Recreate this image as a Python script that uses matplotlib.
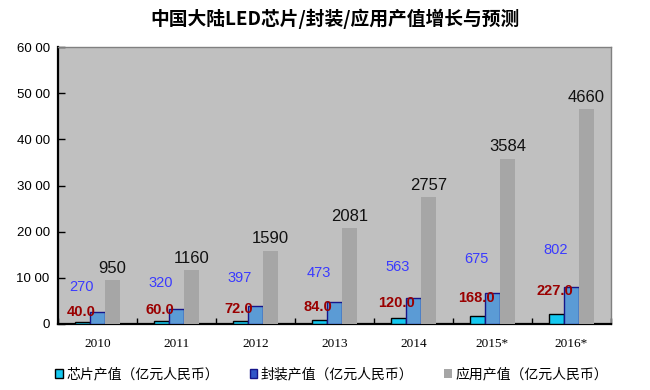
import numpy as np
import matplotlib
matplotlib.use("Agg")
import matplotlib.pyplot as plt
from matplotlib.patches import Patch

# data
years = ['2010', '2011', '2012', '2013', '2014', '2015*', '2016*']
chip = [40.0, 60.0, 72.0, 84.0, 120.0, 168.0, 227.0]
package = [270, 320, 397, 473, 563, 675, 802]
application = [950, 1160, 1590, 2081, 2757, 3584, 4660]

series_names = ['芯片产值（亿元人民币）', '封装产值（亿元人民币）', '应用产值（亿元人民币）']

cjk = ['Noto Sans CJK SC', 'DejaVu Sans']

fig = plt.figure(figsize=(6.5, 3.9), dpi=100)
ax = fig.add_axes([58 / 650, 1 - 324 / 390, (611 - 58) / 650, (324 - 47) / 390])
ax.set_facecolor('#c0c0c0')

x = np.arange(len(years))
w = 0.19

ax.bar(x - w, chip, w, color='#14c8f0', edgecolor='black', linewidth=1.0, zorder=3)
ax.bar(x, package, w, color='#5b9bd5', edgecolor='#15158a', linewidth=1.0, zorder=3)
ax.bar(x + w, application, w, color='#a6a6a6', edgecolor='none', zorder=3)

for i in range(len(years)):
    ax.annotate(str(application[i]), (x[i] + w, application[i]), xytext=(0, 3),
                textcoords='offset points', ha='center', va='bottom',
                fontsize=12, color='#111111', family='Liberation Sans', zorder=5)
    ax.text(x[i] - w * 1.05, package[i] * 1.5 + 400, str(package[i]),
            ha='center', va='center', fontsize=10.5, color='#3a3aff',
            family='Liberation Sans', zorder=5)
    ax.text(x[i] - w * 1.1, chip[i] * 2.5 + 150, '%.1f' % chip[i],
            ha='center', va='center', fontsize=10.5, color='#9a0000',
            fontweight='bold', family='Liberation Sans', zorder=5)

ax.set_xlim(-0.5, len(years) - 0.5)
ax.set_ylim(0, 6000)
ax.set_yticks(range(0, 6001, 1000))
ax.set_yticklabels(['0'] + ['%d %02d' % (v // 100, v % 100) for v in range(1000, 6001, 1000)],
                   family='Liberation Sans', fontsize=9.5)
ax.set_xticks(np.arange(len(years) + 1) - 0.5, minor=False)
ax.set_xticklabels([])
ax.set_xticks(x, minor=True)
ax.set_xticklabels(years, minor=True, family='Liberation Serif', fontsize=9.5)
ax.tick_params(axis='x', which='minor', length=0, pad=10)
ax.tick_params(axis='x', which='major', direction='in', length=4, width=1)
ax.tick_params(axis='y', direction='in', length=5, width=1, pad=6)

for s in ['left', 'bottom']:
    ax.spines[s].set_color('black')
    ax.spines[s].set_linewidth(1.6)
for s in ['top', 'right']:
    ax.spines[s].set_color('#808080')
    ax.spines[s].set_linewidth(1.0)

fig.text(0.515, 0.953, '中国大陆LED芯片/封装/应用产值增长与预测', ha='center', va='center',
         fontsize=13.5, fontweight='bold', family=cjk)

handles = [Patch(facecolor='#14c8f0', edgecolor='black'),
           Patch(facecolor='#2f55c8', edgecolor='#15158a'),
           Patch(facecolor='#a6a6a6', edgecolor='none')]
fig.legend(handles, series_names, loc='center', bbox_to_anchor=(0.51, 0.04), ncol=3,
           frameon=False, prop={'family': cjk, 'size': 10},
           handlelength=0.55, handleheight=0.55, handletextpad=0.25, columnspacing=2.2)

fig.savefig('out.png', dpi=100)
